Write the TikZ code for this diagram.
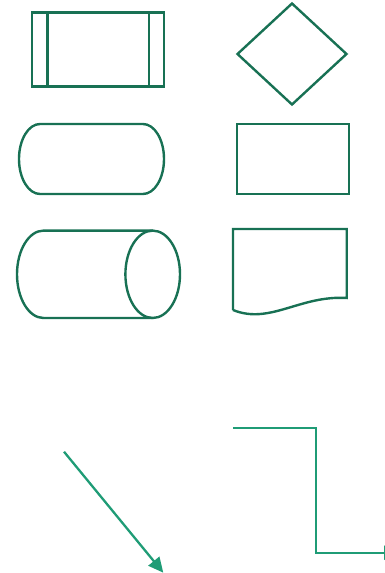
\documentclass[tikz,border=0pt]{standalone}
\usetikzlibrary{positioning,arrows.meta,shapes.geometric}
\definecolor{ShapeGreen}{RGB}{24,113,84}
\definecolor{ArrowGreen}{RGB}{31,156,118}

\begin{document}
\begin{tikzpicture}[x=1pt,y=-1pt]
\tikzset{
  outline/.style={draw=ShapeGreen, line width=2.4pt, inner sep=0pt},
  link/.style={draw=ArrowGreen, line width=2.3pt, -{Triangle[length=15pt,width=14pt]}}
}
  \useasboundingbox (0,0) rectangle (385,573);
  % predefined process
  \node[outline, minimum width=132pt, minimum height=74pt] (predef) at (98,49.5) {};
  \draw[outline] ([xshift=16.5pt]predef.north west) -- ([xshift=16.5pt]predef.south west);
  \draw[outline] ([xshift=-16.5pt]predef.north east) -- ([xshift=-16.5pt]predef.south east);
  % decision
  \node[outline, diamond, minimum width=110pt, minimum height=102pt] (decision) at (292,54) {};
  % terminal
  \draw[outline] (40,124) -- (143,124) arc[start angle=-90, end angle=90, x radius=21, y radius=35]
    -- (40,194) arc[start angle=90, end angle=270, x radius=21, y radius=35] -- cycle;
  % process
  \node[outline, minimum width=112pt, minimum height=70pt] (process) at (293,159) {};
  % stored data
  \draw[outline] (152.7,230.6) -- (43.5,230.6) arc[start angle=-90, end angle=-270, x radius=26.5, y radius=43.7]
    -- (152.7,318);
  \draw[outline] (152.7,274.3) ellipse[x radius=27.3, y radius=43.7];
  % document
  \draw[outline] (233,310) -- (233,229) -- (346.7,229) -- (346.7,298)
    .. controls (300,295) and (270,325) .. (233,310);
  % connectors
  \coordinate (a0) at (64,451.7);
  \coordinate (a1) at (163.3,572.7);
  \draw[link] (a0) -- (a1);
  \coordinate (e0) at (233.3,427.7);
  \coordinate (bend) at (315.7,427.7);
  \coordinate (e1) at (399,552.7);
  \draw[link] (e0) -- (bend) |- (e1);
\end{tikzpicture}
\end{document}
